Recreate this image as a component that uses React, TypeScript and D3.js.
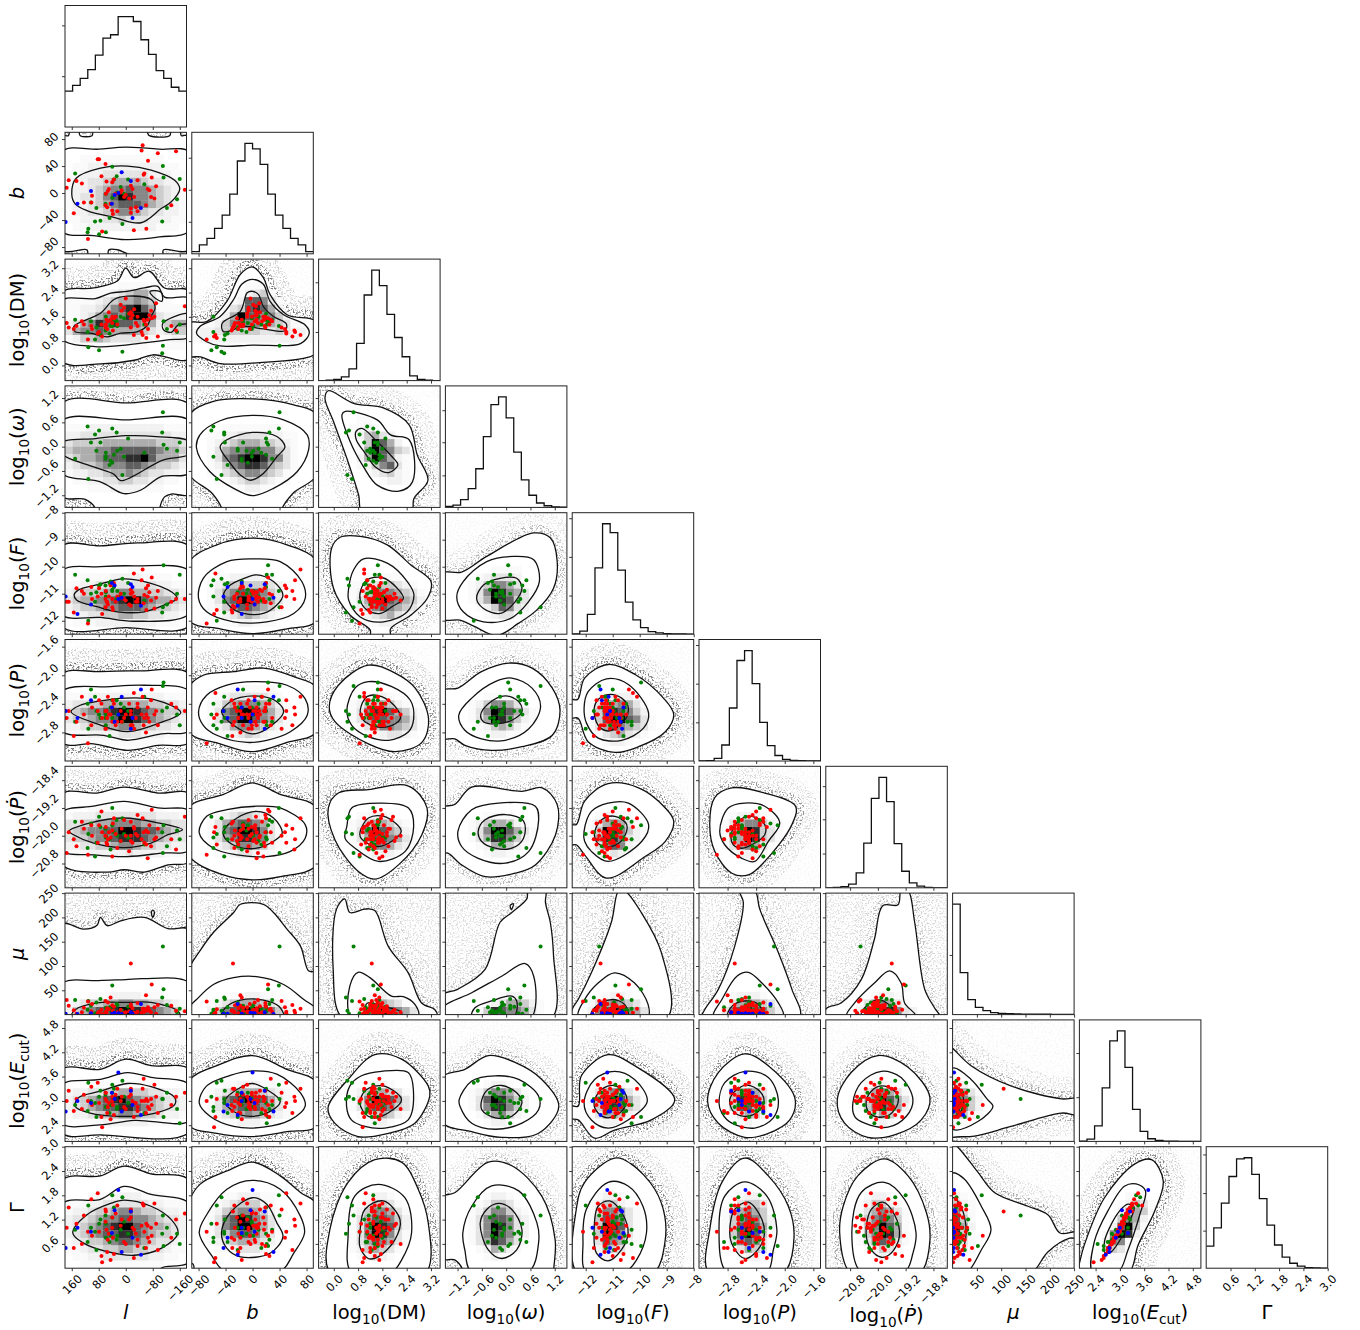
import React from "react";
import * as d3 from "d3";

const X0 = 65;
const Y0 = 5.5;
const STEP = 126.8;
const SIZE = 121.5;
const FONT = "DejaVu Sans";

// parameter order: l, b, DM, omega, F, P, Pdot, mu, Ecut, Gamma
const DOMAINS = [[180, -180], [-90, 90], [-0.5, 3.5], [-1.5, 1.5], [-12.5, -8], [-3.2, -1.5], [-21.5, -18], [0, 250], [2, 5], [0, 3]];
const TICKS = [[160, 80, 0, -80, -160], [-80, -40, 0, 40, 80], [0, 0.8, 1.6, 2.4, 3.2], [-1.2, -0.6, 0, 0.6, 1.2], [-12, -11, -10, -9, -8], [-2.8, -2.4, -2, -1.6], [-20.8, -20, -19.2, -18.4], [50, 100, 150, 200, 250], [2.4, 3, 3.6, 4.2, 4.8], [0.6, 1.2, 1.8, 2.4, 3]];
const TICK_LABELS = [
  ["160", "80", "0", "−80", "−160"], ["−80", "−40", "0", "40", "80"], ["0.0", "0.8", "1.6", "2.4", "3.2"],
  ["−1.2", "−0.6", "0.0", "0.6", "1.2"], ["−12", "−11", "−10", "−9", "−8"], ["−2.8", "−2.4", "−2.0", "−1.6"],
  ["−20.8", "−20.0", "−19.2", "−18.4"], ["50", "100", "150", "200", "250"], ["2.4", "3.0", "3.6", "4.2", "4.8"],
  ["0.6", "1.2", "1.8", "2.4", "3.0"],
];
const LABELS = [
  [["l", "i"]], [["b", "i"]], [["log"], ["10", "s"], ["(DM)"]], [["log"], ["10", "s"], ["("], ["ω", "i"], [")"]],
  [["log"], ["10", "s"], ["("], ["F", "i"], [")"]], [["log"], ["10", "s"], ["("], ["P", "i"], [")"]],
  [["log"], ["10", "s"], ["("], ["Ṗ", "i"], [")"]], [["μ", "i"]],
  [["log"], ["10", "s"], ["("], ["E", "i"], ["cut", "s"], [")"]], [["Γ"]],
];

// 16-bin marginals, peak = 100
const HISTS = [
  [32.5, 37.6, 44, 52, 65, 80.5, 83.5, 100, 100, 95.5, 79, 65.7, 51, 44, 36, 32.5],
  [2, 8, 14, 23, 35, 54, 84, 100, 95, 81, 54, 35, 23, 14, 8, 2],
  [0, 0.3, 1, 3.3, 10.6, 33.7, 77.5, 100, 86, 60, 39, 21.6, 4.3, 1.2, 0.3, 0],
  [1, 2, 7, 17, 35, 64, 93, 100, 81, 50, 25, 11, 4, 1.5, 0.5, 0.2],
  [0.3, 2.7, 18, 60, 100, 92, 58, 29, 13, 6, 2.4, 1.2, 0.6, 0.3, 0.2, 0.1],
  [0, 0.3, 2.4, 14.5, 48, 91, 100, 70, 35, 14, 5, 1.5, 0.6, 0.3, 0.1, 0],
  [0, 0.3, 1, 3.3, 13.6, 40.5, 81, 100, 78, 40, 15, 4.5, 1.5, 0.3, 0, 0],
  [100, 38, 13.6, 6.6, 3.6, 1.8, 1.2, 0.9, 0.7, 0.5, 0.4, 0.3, 0.3, 0.2, 0.2, 0.1],
  [0.3, 2, 14, 48.5, 91, 100, 67, 29, 9, 2.4, 0.9, 0.3, 0.2, 0.1, 0.1, 0],
  [20, 36.5, 59, 83, 99, 100, 85, 63, 39, 21, 10, 4.5, 1.8, 0.6, 0.3, 0.1],
];
const HIST_TICKS = [[46, 92], [29, 58, 87], [44, 89], [29, 59, 88], [35, 70, 105], [35, 70, 105], [31, 62, 92], [54], [40, 80], [34, 68, 103]];

// red population (no omega)
const RED_L = [-50, -47, -95, -149, -66, 83, 79, 60, 72, 146, 169, 130, 175, 154, 124, 100, 102, 57, 35, 40, 50, 53, 59, 60, 55, 40, 25, 38, 45, 30, 15, 5, -10, -25, -15, -35, -55, -53, -77, -90, -70, -75, -85, -60, -65, -30, -15, -15, -35, -61, -24, 112, 70, -175, -135, 12, 0, -20];
const RED_B = [71, 63, 59, 62, 48, 50, 50, 43, 25, 18, 19, 14, 8, -30, -14, -4, -14, 17, 20, 16, 6, 3, -1, -18, -21, -26, -27, -31, -16, -1, 1, -6, -8, -6, 11, 19, 29, 27, 23, 10, 4, -6, -8, -18, 6, -21, -23, -29, -27, -53, -55, -68, -57, 5, -18, 4, -3, 6];
const RED_DM = [1, 1.1, 0.95, 1.15, 1.2, 1.05, 1.1, 1.25, 1.35, 1.3, 1.25, 1.45, 1.4, 1.2, 1.35, 1.2, 1.3, 1.5, 1.55, 1.6, 1.75, 1.45, 1.35, 1.3, 1.2, 1.4, 1.35, 1.15, 1.5, 1.6, 2, 1.9, 1.7, 1.85, 1.75, 1.6, 1.45, 1.5, 1.55, 2.05, 1.65, 1.8, 1.6, 1.35, 1.5, 1.4, 1.55, 1.25, 1.3, 0.9, 1, 0.85, 0.95, 1.95, 1.3, 1.8, 2.2, 1.65];
const RED_F = [-10.1, -10.5, -10.9, -11.2, -10.7, -11.1, -10.8, -11.5, -11, -10.8, -11.3, -10.9, -11.3, -11.7, -11, -11.2, -10.75, -11.3, -10.6, -11.2, -11.1, -11.4, -10.9, -11.2, -11.3, -11.5, -11.1, -11.6, -10.7, -11.3, -11, -11.2, -11.4, -11.1, -10.85, -11.3, -11.05, -11.35, -10.4, -11.15, -10.95, -11.25, -11.55, -10.8, -11.1, -11.3, -11, -11.45, -11.2, -11.6, -10.25, -12.1, -11.75, -11.2, -11.3, -11.15, -11.25, -10.95];
const RED_P = [-2.3, -2.55, -2.7, -2.45, -2.6, -2.5, -2.35, -2.75, -2.4, -2.65, -2.5, -2.3, -2.6, -2.85, -2.55, -2.45, -2.7, -2.5, -2.4, -2.65, -2.55, -2.3, -2.75, -2.5, -2.6, -2.45, -2.65, -2.35, -2.55, -2.7, -2.5, -2.6, -2.4, -2.75, -2.55, -2.45, -2.6, -2.7, -2.2, -2.5, -2.65, -2.35, -2.55, -2.8, -2.45, -2.6, -2.5, -2.7, -2.4, -2.55, -2.25, -2.95, -2.6, -2.5, -2.4, -2.65, -2.55, -2.7];
const RED_PD = [-19.5, -20.1, -19.8, -20.4, -19.9, -20.2, -19.7, -20, -19.3, -20.3, -19.9, -19.6, -20.5, -20.1, -19.8, -20, -19.7, -20.2, -19.5, -20.6, -19.9, -20.1, -19.75, -20, -20.25, -19.85, -20.35, -19.65, -20.05, -19.95, -20.15, -19.55, -20.45, -19.8, -20, -19.4, -20.2, -19.9, -19.25, -20.05, -19.7, -20.3, -20.1, -19.85, -20.65, -19.95, -20.15, -19.6, -20, -20.25, -19.75, -20.55, -19.9, -19.45, -20.1, -19.8, -20, -20.2];
const RED_MU = [12, 4, 20, 8, 15, 3, 6, 28, 10, 2, 18, 5, 30, 9, 14, 22, 7, 4, 16, 3, 11, 25, 6, 2, 13, 19, 5, 8, 35, 1, 10, 4, 7, 3, 17, 24, 6, 12, 62, 2, 9, 5, 15, 40, 8, 3, 21, 105, 6, 11, 4, 27, 1, 7, 18, 2, 5, 13];
const RED_E = [3.3, 3, 2.7, 3.1, 2.85, 3.45, 2.95, 3.2, 2.6, 3.05, 3.25, 2.8, 3, 2.75, 3.15, 2.9, 3.35, 3, 2.65, 3.1, 2.95, 2.85, 3.2, 3.05, 2.7, 3, 3.3, 2.9, 2.55, 3.15, 3, 2.85, 3.1, 2.95, 3.25, 2.75, 3, 3.55, 2.9, 3.1, 2.8, 3.05, 3.4, 2.7, 3, 2.95, 3.15, 3.3, 2.85, 3.05, 2.6, 3, 2.35, 3.2, 2.9, 3.1, 2.8, 3];
const RED_G = [1.6, 1.05, 0.45, 1.2, 0.75, 1.85, 0.9, 1.45, 0.3, 1.1, 1.5, 0.6, 1, 0.5, 1.3, 0.8, 1.7, 0.95, 0.35, 1.25, 0.85, 0.7, 1.4, 1.15, 0.4, 1, 1.55, 0.75, 0.2, 1.35, 1.05, 0.65, 1.2, 0.95, 1.45, 0.55, 0.9, 1.55, 0.8, 1.1, 0.65, 1, 1.6, 0.5, 1.05, 0.85, 1.25, 1.4, 0.7, 1.1, 0.25, 0.9, 0.15, 1.35, 0.75, 1.2, 0.6, 1];

// green population (all ten parameters)
const GREEN_L = [40, 150, -110, -112, -160, -152, -122, -108, 10, 48, 91, 75, 111, 113, 79, 59, 103, 87, 60, 45, 59, 27, 35, 15, -7, 40, -55, 5, 25];
const GREEN_B = [39, 29, 40, 23, 21, -9, -22, -42, -46, -37, -42, -41, -53, -58, -61, -58, -14, -22, -16, -16, -1, 25, 20, 9, 20, -7, 13, -1, 1];
const GREEN_DM = [1.3, 1.5, 0.65, 1.45, 1.35, 1.1, 1.2, 0.4, 0.45, 1.05, 0.85, 1, 0.6, 1.1, 0.5, 1.6, 1.45, 1.25, 1.15, 1.3, 1.2, 1.45, 1.5, 1.6, 1.7, 1.4, 1.35, 1.55, 1.3];
const GREEN_W = [0.45, -0.3, 0.85, 0.05, 0.1, -0.1, -0.05, 0.35, -0.7, -0.45, 0.3, 0.1, -0.8, 0.5, 0.4, -0.25, 0.1, -0.1, -0.3, -0.35, -0.15, 0.35, -0.2, -0.05, 0.2, -0.4, -0.15, -0.25, -0.1];
const GREEN_F = [-10.9, -10.3, -11.5, -9.95, -10.3, -11, -11.4, -11.7, -10.45, -10.6, -11.3, -10.65, -12, -10.5, -10.7, -11.1, -11, -10.95, -10.7, -10.55, -10.95, -11.2, -10.75, -11.1, -10.6, -10.85, -11.25, -11, -10.9];
const GREEN_P = [-2.35, -2.65, -2.15, -2.1, -2.7, -2.55, -2.45, -2.5, -2.65, -2.85, -2.3, -2.6, -2.75, -2.4, -2.55, -2.7, -2.2, -2.5, -2.6, -2.45, -2.55, -2.35, -2.65, -2.4, -2.5, -2.6, -2.3, -2.45, -2.55];
const GREEN_PD = [-19.2, -19.6, -20.5, -19.7, -20.1, -19.85, -20.3, -19.9, -19.5, -20.1, -20.6, -19.75, -19.95, -20.35, -19.45, -20.05, -19.65, -20.2, -19.8, -20.4, -20, -19.55, -19.9, -20.15, -20.05, -19.7, -20.25, -19.95, -20];
const GREEN_MU = [60, 30, 140, 52, 12, 5, 20, 35, 8, 15, 3, 32, 28, 10, 2, 6, 18, 25, 4, 9, 14, 22, 7, 3, 16, 5, 11, 1, 19];
const GREEN_E = [3.4, 2.9, 3.05, 2.6, 2.45, 2.8, 3.2, 3.05, 3.5, 2.7, 2.95, 3.25, 3.45, 2.75, 3.1, 2.85, 3, 2.6, 3.15, 2.9, 3.05, 2.8, 3.3, 3, 2.95, 3.2, 2.7, 3.1, 2.85];
const GREEN_G = [1.8, 0.95, 1.3, 0.55, 0.6, 0.85, 1, 0.85, 1.75, 0.65, 0.9, 1.2, 1.55, 0.65, 1.1, 0.75, 1, 0.45, 1.3, 0.8, 1.1, 0.7, 1.5, 0.95, 0.85, 1.25, 0.5, 1.15, 0.8];

// blue population (no DM, omega or Pdot)
const BLUE_L = [178, 143, 103, 41, 33, 22, 12, -15, -45, -20];
const BLUE_B = [-43, -16, 3, -16, -3, 0, 31, 18, -22, -37];
const BLUE_F = [-11.1, -11.75, -11.4, -10.6, -10.7, -11.2, -11.15, -10.65, -11.45, -10.75];
const BLUE_P = [-2.5, -2.6, -2.35, -2.45, -2.65, -2.55, -2.3, -2.75, -2.2, -2.6];
const BLUE_MU = [2, 1, 3, 2, 4, 3, 1, 5, 22, 2];
const BLUE_E = [2.74, 3, 2.95, 3.2, 3.05, 3.7, 2.74, 3.25, 2.65, 2.9];
const BLUE_G = [0.5, 1, 0.9, 0.87, 1.43, 1.93, 0.4, 1.4, 0.33, 0.75];

const POPULATIONS = [
  { color: "green", values: [GREEN_L, GREEN_B, GREEN_DM, GREEN_W, GREEN_F, GREEN_P, GREEN_PD, GREEN_MU, GREEN_E, GREEN_G] },
  { color: "red", values: [RED_L, RED_B, RED_DM, null, RED_F, RED_P, RED_PD, RED_MU, RED_E, RED_G] },
  { color: "blue", values: [BLUE_L, BLUE_B, null, null, BLUE_F, BLUE_P, null, BLUE_MU, BLUE_E, BLUE_G] },
];

// contours per column, one entry per row below the diagonal: outer, middle, inner, then any islands (x, y, x, y ...)
const CONTOURS_L = [
  [[190, 85, 170, 85, 165, 92, 140, 92, 135, 85, 100, 85, 95, 92, -60, 92, -70, 85, -130, 85, -135, 92, -160, 92, -165, 85, -190, 85, -190, -84, -112, -84, -108, -92, -20, -92, 25, -84, 50, -84, 55, -92, 110, -92, 115, -84, 190, -84],
   [190, 61, 80, 65, 0, 68, -100, 65, -190, 60, -190, -55, -100, -65, 0, -69, 95, -63, 190, -56],
   [160, -1, 147, 22, 75, 37, -5, 40, -75, 34, -145, 19, -160, 6, -135, -13, -105, -23, -45, -44, 35, -36, 115, -26, 150, -16]],
  [[190, 2.39, 95, 2.55, 25, 2.78, 0, 3.2, -25, 2.89, -70, 3.1, -115, 2.55, -190, 2.44, -190, 0.22, -80, 0.35, -25, 0.17, 75, 0.05, 190, 0.14],
   [190, 2.13, 90, 2.2, 45, 2.38, -5, 2.44, -55, 2.55, -95, 2.6, -115, 2.25, -190, 2.2, -190, 0.95, -130, 0.85, -60, 0.75, 20, 0.65, 90, 0.62, 190, 0.88],
   [155, 1.22, 150, 1.33, 75, 1.72, 35, 2.17, -5, 2.28, -75, 2.17, -87, 1.89, -75, 1.61, -65, 1.33, -35, 1.11, 15, 1.06, 55, 0.94, 105, 1.06, 150, 1.11],
   [-72, 2.44, -105, 2.41, -107, 2.11, -80, 2.28],
   [-182, 1.7, -145, 1.61, -110, 1.39, -112, 1.17, -135, 1.09, -155, 1.33, -182, 1.39]],
  [[190, 1.06, 0, 1.08, -190, 1.03, -190, -1.17, -135, -1.17, -115, -1.24, -100, -1.55, -100, -1.8, 90, -1.8, 92, -1.5, 120, -1.3, 190, -1.22],
   [190, 0.63, 0, 0.66, -190, 0.63, -190, -0.64, -105, -0.74, -45, -1.07, 5, -1.16, 75, -0.87, 190, -0.64],
   [190, 0.1, 90, 0.2, 0, 0.27, -90, 0.25, -190, 0.12, -190, -0.18, -110, -0.33, 15, -0.84, 35, -0.68, 95, -0.5, 190, -0.17]],
  [[190, -9.25, 75, -9.23, -35, -9.12, -190, -9.27, -190, -12.17, 0, -12.26, 190, -12.2],
   [190, -10.16, 75, -10, -25, -9.97, -190, -10.18, -190, -11.73, -25, -12.02, 75, -11.88, 190, -11.77],
   [153, -11.05, 140, -10.86, 75, -10.64, 10, -10.45, -55, -10.55, -135, -10.93, -152, -11.17, -125, -11.36, -55, -11.67, 25, -11.67, 85, -11.48, 145, -11.24]],
  [[190, -1.99, 75, -1.95, -35, -1.94, -190, -1.99, -190, -2.93, -95, -2.98, -5, -3.05, 95, -2.96, 190, -2.94],
   [190, -2.23, 45, -2.16, -55, -2.14, -190, -2.23, -190, -2.77, -105, -2.82, -5, -2.91, 65, -2.84, 190, -2.78],
   [162, -2.51, 135, -2.42, 75, -2.36, 5, -2.32, -85, -2.34, -163, -2.52, -105, -2.66, -5, -2.79, 85, -2.68]],
  [[190, -18.81, 85, -18.77, 5, -18.6, -95, -18.77, -190, -18.81, -190, -20.74, -125, -20.84, -55, -21.05, 5, -20.98, 55, -21.05, 190, -20.82],
   [190, -19.34, 95, -19.15, 5, -19.01, -95, -19.2, -190, -19.3, -190, -20.4, -105, -20.5, -5, -20.6, 95, -20.55, 190, -20.42],
   [168, -19.87, 105, -19.63, 5, -19.49, -95, -19.63, -168, -19.83, -125, -19.97, -75, -20.21, 5, -20.34, 95, -20.21, 155, -19.97]],
  [[190, 186, 125, 176, 85, 184, 75, 200, 55, 183, 15, 193, -55, 200, -125, 177, -190, 174, -190, -30, 190, -30],
   [190, 63, 80, 70, 0, 72, -50, 74, -190, 64, -190, -30, 190, -30],
   [160, -5, 150, 10, 85, 24, -5, 25, -75, 25, -155, 7, -160, -5, 0, -20],
   [-80, 200, -85, 210, -80, 215, -76, 210]],
  [[190, 3.77, 75, 3.78, 0, 4.03, -75, 3.87, -190, 3.77, -190, 2.24, 75, 2.16, 190, 2.22],
   [190, 3.39, 75, 3.53, -5, 3.7, -75, 3.58, -190, 3.39, -190, 2.52, -25, 2.52, 75, 2.41, 190, 2.45],
   [150, 2.87, 140, 3.08, 75, 3.24, -5, 3.43, -75, 3.35, -145, 3.08, -145, 2.91, -65, 2.66, 25, 2.62, 105, 2.7]],
  [[190, 2.16, 75, 2.28, 5, 2.52, -75, 2.33, -190, 2.16, -190, -0.5, 190, -0.5],
   [190, 1.58, 75, 1.7, 5, 2.02, -75, 1.82, -190, 1.58, -190, 0.16, -105, 0, -100, -0.2, 190, -0.2],
   [157, 0.87, 115, 1.32, 45, 1.6, 5, 1.68, -75, 1.53, -135, 1.2, -155, 0.87, -105, 0.49, -25, 0.32, 55, 0.41, 125, 0.62]],
];
const CONTOURS_B = [
  [[-95, 1.39, -68, 1.44, -38, 2.11, -18, 3, 0, 3.24, 16, 2.89, 26, 2.33, 51, 1.67, 95, 1.44, 95, 0.42, 73, 0.22, 21, 0.11, -48, 0.06, -77, 0.28, -95, 0.33],
   [-83, 1.06, -78, 1.28, -48, 1.61, -28, 2.17, -16, 2.67, 0, 2.83, 16, 2.67, 26, 2.11, 46, 1.67, 78, 1.33, 84, 1.06, 71, 0.72, 0, 0.67, -48, 0.64, -68, 0.78],
   [-45, 1.39, -18, 1.78, -8, 2.39, 0, 2.44, 9, 2.33, 16, 1.94, 31, 1.61, 50, 1.37, 48, 1.14, 16, 1.2, -13, 1.28, -43, 1.11]],
  [[-95, 0.75, -58, 1.12, 0, 1.18, 61, 1.03, 95, 0.78, 95, -0.7, 60, -1.15, 42, -1.6, 42, -1.8, -44, -1.8, -44, -1.6, -60, -1.15, -95, -0.66],
   [-83, -0.04, -78, 0.29, -48, 0.64, 0, 0.77, 46, 0.66, 81, 0.29, 83, -0.08, 66, -0.62, 31, -1.03, 0, -1.21, -28, -1.03, -63, -0.62],
   [-48, 0, -38, 0.17, 0, 0.35, 36, 0.25, 48, 0, 36, -0.25, 16, -0.66, -3, -0.83, -18, -0.7, -33, -0.41]],
  [[-95, -9.87, -53, -9.19, 0, -8.94, 51, -9.19, 95, -9.81, 95, -12, 51, -12.3, 0, -12.48, -48, -12.3, -95, -11.98],
   [-80, -11.17, -73, -10.43, -38, -9.81, 0, -9.71, 41, -9.81, 73, -10.55, 78, -11.17, 61, -11.73, 21, -12.04, -28, -12.04, -68, -11.67],
   [-43, -11.05, -33, -10.68, -18, -10.49, 6, -10.3, 31, -10.55, 45, -11.05, 36, -11.42, 16, -11.73, -13, -11.73, -33, -11.48]],
  [[-95, -2.18, -73, -2, -28, -1.95, 16, -1.9, 61, -2.02, 95, -2.18, 95, -2.79, 51, -2.94, -1, -3.07, -48, -2.96, -95, -2.79],
   [-80, -2.51, -68, -2.28, -38, -2.14, 1, -2.09, 51, -2.14, 78, -2.33, 81, -2.56, 56, -2.79, 21, -2.91, -8, -2.94, -53, -2.84, -73, -2.7],
   [-46, -2.51, -33, -2.37, -18, -2.31, 16, -2.3, 36, -2.37, 46, -2.51, 21, -2.75, -1, -2.82, -28, -2.7]],
  [[-95, -19.2, -43, -18.81, 0, -18.48, 41, -18.81, 95, -19.2, 95, -20.84, 41, -21.18, 0, -21.27, -43, -21.13, -95, -20.55],
   [-79, -19.92, -68, -19.44, -38, -19.25, 6, -19.15, 41, -19.2, 78, -19.68, 78, -20.07, 56, -20.45, 21, -20.6, -23, -20.55, -58, -20.36],
   [-43, -19.87, -23, -19.49, 6, -19.3, 31, -19.49, 44, -19.92, 31, -20.16, 6, -20.36, -23, -20.31, -41, -20.07]],
  [[-95, 90, -78, 131, -58, 169, -28, 210, -18, 227, 16, 227, 31, 210, 51, 176, 71, 141, 83, 90, 95, 86, 95, -30, -95, -30],
   [-95, 12, -83, 31, -58, 62, -28, 76, 6, 78, 46, 62, 76, 31, 95, 10, 95, -30, -95, -30],
   [-46, -5, -38, 17, -18, 30, 16, 30, 39, 17, 46, -5, 0, -20]],
  [[-95, 3.47, -53, 3.87, 0, 4.12, 51, 3.78, 95, 3.45, 95, 2.38, 51, 2.24, 0, 2.12, -53, 2.2, -95, 2.41],
   [-79, 2.95, -68, 3.37, -33, 3.63, 0, 3.74, 36, 3.66, 71, 3.2, 78, 2.87, 56, 2.53, 16, 2.35, -28, 2.37, -63, 2.62],
   [-41, 2.99, -18, 3.33, 0, 3.43, 21, 3.28, 41, 2.99, 26, 2.74, -3, 2.62, -28, 2.74]],
  [[-95, 1.58, -78, 2.07, -38, 2.4, 0, 2.62, 41, 2.28, 71, 1.87, 95, 1.58, 95, -0.5, -95, -0.5],
   [-79, 0.87, -68, 1.32, -38, 1.95, 0, 2.17, 41, 1.95, 71, 1.28, 77, 0.87, 61, 0.37, 40, -0.1, -40, -0.1, -60, 0.3],
   [-46, 0.87, -33, 1.37, 0, 1.74, 21, 1.58, 36, 1.12, 45, 0.78, 26, 0.37, -18, 0.28, -38, 0.49],
   [-95, 0.1, -88, 0.1, -88, -0.1, -95, -0.1]],
];
const CONTOURS_DM = [
  [[-0.29, 1.2, -0.18, 1.38, 0.65, 1.07, 1.65, 0.95, 2.48, 0.54, 2.75, -0.21, 3.1, -0.83, 2.64, -1.28, 2.55, -1.6, 0.93, -1.6, 0.82, -1.2, 0.43, -0.29, -0.01, 0.62],
   [0.27, 0.79, 0.38, 0.87, 1.43, 0.66, 1.87, 0.29, 2.48, 0.17, 2.59, -0.87, 2.14, -1.1, 1.43, -0.95, 0.98, -0.5, 0.54, 0.12],
   [0.73, 0.37, 0.93, 0.45, 1.43, 0.12, 1.92, -0.25, 2.11, -0.45, 1.81, -0.64, 1.37, -0.5, 1.04, -0.17, 0.74, 0.17]],
  [[-0.07, -9.31, 0.21, -8.91, 0.87, -8.88, 1.76, -9.19, 2.53, -9.93, 3.2, -10.55, 3.08, -11.17, 2.53, -11.8, 1.87, -12.3, 1.87, -12.7, 1.2, -12.7, 1.2, -12.35, 0.54, -11.8, -0.01, -10.8],
   [0.49, -10.8, 0.65, -10.12, 0.98, -9.71, 1.76, -9.87, 2.42, -10.55, 2.64, -11.05, 2.42, -11.67, 1.64, -12.04, 0.87, -11.86, 0.49, -11.24],
   [0.89, -10.86, 1.09, -10.49, 1.59, -10.4, 2.09, -10.8, 2.29, -11.17, 1.92, -11.48, 1.54, -11.73, 1.09, -11.6, 0.87, -11.24]],
  [[-0.15, -2.44, 0.15, -2.14, 1.14, -1.86, 2.02, -1.97, 2.68, -2.18, 3.12, -2.61, 2.9, -2.94, 2.02, -3.07, 1.14, -2.96, 0.04, -2.65],
   [0.43, -2.49, 0.7, -2.18, 1.14, -2.09, 1.91, -2.16, 2.52, -2.35, 2.63, -2.61, 2.46, -2.79, 1.8, -2.91, 1.14, -2.86, 0.59, -2.7],
   [0.87, -2.49, 1.09, -2.3, 1.58, -2.3, 2.08, -2.47, 2.19, -2.61, 1.8, -2.72, 1.25, -2.7, 0.92, -2.6]],
  [[-0.18, -19.2, 0.15, -18.77, 1.14, -18.67, 2.46, -18.57, 3.07, -19.2, 2.9, -19.97, 2.13, -20.84, 1.36, -21.25, 0.81, -21.03, 0.04, -20.12],
   [0.43, -19.73, 0.59, -19.2, 1.58, -19.06, 2.46, -19.2, 2.63, -19.73, 2.35, -20.45, 1.47, -20.74, 0.7, -20.36, 0.37, -20.07],
   [0.87, -19.87, 1.14, -19.49, 1.64, -19.44, 2.02, -19.63, 2.22, -19.87, 1.91, -20.16, 1.47, -20.31, 1.09, -20.21, 0.87, -20.03]],
  [[0.25, -5, -0.02, 93, 0.09, 217, 0.36, 238, 0.53, 210, 1.02, 217, 1.35, 214, 1.79, 141, 2.45, 86, 2.89, 24, 3.33, 10, 3.4, -5, 1.6, -30],
   [0.56, -5, 0.53, 59, 0.8, 87, 1.19, 76, 1.9, 38, 2.29, 37, 2.67, 21, 2.78, -5, 1.6, -30],
   [1.02, -5, 1.11, 24, 1.6, 17, 2.2, 6, 2.23, -5, 1.6, -20]],
  [[-0.19, 2.83, 0.47, 3.53, 1.35, 4.14, 2.23, 4.03, 3.11, 3.37, 3.16, 3.12, 2.67, 2.45, 1.79, 2.2, 0.8, 2.12, 0.03, 2.45],
   [0.42, 2.87, 0.53, 3.37, 0.91, 3.62, 1.57, 3.73, 2.45, 3.7, 2.62, 3.28, 2.45, 2.53, 1.68, 2.33, 1.02, 2.37, 0.58, 2.53],
   [0.86, 2.95, 1.08, 3.28, 1.63, 3.37, 2.23, 3.03, 1.57, 2.62, 1.13, 2.62]],
  [[-0.13, -0.1, -0.13, 0.95, 0.47, 2.12, 1.35, 2.68, 2.23, 2.62, 2.78, 1.95, 3.11, 1.12, 3.05, -0.1, 1.5, -0.5],
   [0.47, 0.78, 0.69, 1.78, 1.46, 2.07, 2.34, 1.74, 2.56, 0.87, 2.23, 0.2, 1.9, -0.1, 0.58, -0.1],
   [0.86, 0.87, 1.02, 1.45, 1.63, 1.66, 2.18, 1.2, 2.01, 0.7, 1.46, 0.28, 1.13, 0.24, 0.86, 0.53]],
];
const CONTOURS_W = [
  [[-1.6, -10.25, -1.1, -10.2, -0.48, -9.62, 0.68, -8.75, 1.09, -8.93, 1.26, -9.8, 1.17, -10.8, 0.76, -11.6, 0.3, -12.1, -0.23, -12.55, -0.8, -12.2, -1.14, -11.98, -1.6, -11.92],
   [-1.22, -11.11, -1.06, -10.55, -0.48, -9.81, 0.18, -9.62, 0.68, -9.74, 0.82, -10.55, 0.55, -11.3, 0.1, -11.92, -0.56, -12.04, -1.06, -11.67],
   [-0.73, -11.17, -0.56, -10.68, -0.15, -10.43, 0.26, -10.43, 0.39, -10.8, 0.22, -11.3, -0.15, -11.73, -0.56, -11.55]],
  [[-1.6, -2.22, -1.19, -2.18, -0.61, -1.95, 0.06, -1.83, 0.64, -1.9, 1.14, -2.18, 1.33, -2.49, 1.14, -2.84, 0.39, -3, -0.36, -3.05, -1.02, -2.98, -1.27, -2.89, -1.6, -2.88],
   [-1.17, -2.56, -0.85, -2.32, -0.27, -2.09, 0.14, -2.04, 0.64, -2.18, 0.85, -2.44, 0.56, -2.75, -0.02, -2.91, -0.61, -2.89, -1.02, -2.77],
   [-0.63, -2.56, -0.44, -2.4, -0.02, -2.29, 0.31, -2.37, 0.39, -2.51, 0.14, -2.63, -0.27, -2.68, -0.56, -2.65]],
  [[-1.6, -19.2, -1.27, -19.1, -0.85, -18.6, 0.39, -18.72, 0.89, -18.62, 1.26, -19.1, 1.22, -19.97, 0.72, -20.84, 0.22, -21.08, -0.52, -21.18, -1.1, -20.84, -1.44, -20.5, -1.6, -20.5],
   [-1.19, -19.87, -0.85, -19.25, -0.19, -19.06, 0.72, -19.15, 0.8, -19.58, 0.56, -20.45, -0.02, -20.79, -0.69, -20.65, -1.1, -20.31],
   [-0.69, -19.87, -0.52, -19.54, -0.02, -19.39, 0.43, -19.58, 0.43, -20.07, 0.14, -20.36, -0.27, -20.36, -0.61, -20.16]],
  [[-1.6, 39, -1.2, 52, -0.52, 93, -0.15, 190, 0.14, 210, 0.51, 238, 0.55, 255, 0.97, 255, 0.97, 231, 1.09, 190, 1.17, 121, 1.15, -5, 0, -30, -1.6, -30],
   [-1.6, 12, -0.85, 45, -0.11, 79, 0.47, 105, 0.68, 79, 0.64, -5, 0, -30, -1.6, -30],
   [-0.85, -5, -0.77, 14, -0.36, 28, 0.14, 38, 0.26, 28, 0.2, -5, -0.3, -20],
   [0.1, 225, 0.18, 228, 0.13, 216]],
  [[-1.6, 3.58, -1.02, 3.78, -0.44, 4.12, 0.22, 3.95, 0.88, 3.53, 1.3, 2.87, 0.8, 2.2, -0.11, 2.1, -0.85, 2.24, -1.6, 2.49],
   [-1.16, 3.03, -0.85, 3.49, -0.27, 3.62, 0.31, 3.53, 0.8, 3.12, 0.8, 2.78, 0.39, 2.45, -0.27, 2.3, -0.85, 2.45, -1.14, 2.87],
   [-0.6, 3.03, -0.45, 3.28, -0.11, 3.38, 0.26, 3.2, 0.39, 2.95, 0.14, 2.62, -0.27, 2.58, -0.6, 2.78]],
  [[-1.6, 1.74, -1.26, 1.87, -0.44, 2.62, 0.14, 2.53, 0.88, 1.78, 1.21, 0.7, 1.17, -0.1, 1.17, -0.5, -1.05, -0.5, -1.05, -0.1, -1.26, 0.2, -1.6, 0.24],
   [-1.07, 0.87, -0.85, 1.53, -0.36, 2.03, 0.31, 1.91, 0.76, 1.12, 0.8, 0.62, 0.55, -0.1, -0.85, -0.1, -1.02, 0.45],
   [-0.64, 1.12, -0.48, 1.45, -0.19, 1.6, 0.14, 1.45, 0.39, 0.95, 0.26, 0.45, -0.11, 0.24, -0.44, 0.45]],
];
const CONTOURS_F = [
  [[-12.6, -2.34, -12.3, -2.34, -12.04, -2.04, -11.17, -1.85, -10.17, -1.99, -9.12, -2.32, -8.74, -2.55, -9.05, -2.79, -10.04, -3, -10.92, -3.08, -11.91, -2.93, -12.29, -2.6, -12.6, -2.6],
   [-12.06, -2.46, -11.91, -2.23, -11.23, -2.05, -10.42, -2.13, -9.67, -2.53, -9.86, -2.74, -10.67, -2.91, -11.54, -2.88, -11.97, -2.67],
   [-11.69, -2.48, -11.54, -2.34, -11.17, -2.27, -10.67, -2.32, -10.42, -2.46, -10.6, -2.65, -11.17, -2.78, -11.54, -2.7]],
  [[-12.6, -19.68, -12.35, -19.68, -12.04, -19, -11.17, -18.5, -10.04, -18.62, -9.05, -19.2, -8.74, -19.58, -9.05, -20.16, -9.8, -20.6, -11.23, -21.22, -12.04, -20.55, -12.35, -20.26, -12.6, -20.26],
   [-12.06, -19.87, -11.79, -19.3, -11.17, -19.06, -10.42, -19.06, -9.67, -19.68, -9.92, -20.16, -11.17, -20.74, -11.79, -20.45, -12.04, -20.16],
   [-11.66, -19.87, -11.41, -19.54, -10.92, -19.44, -10.48, -19.68, -10.6, -20.07, -11.04, -20.31, -11.48, -20.26, -11.66, -20.07]],
  [[-12.51, 10, -12.28, 31, -11.79, 86, -11.05, 190, -10.78, 255, -10.56, 255, -9.94, 210, -9.2, 128, -8.95, -5, -11, -30, -12.6, -30],
   [-12.28, -5, -12.04, 31, -11.54, 65, -10.93, 86, -10.19, 65, -9.69, 21, -9.69, -5, -11, -30],
   [-11.79, -5, -11.67, 14, -11.05, 31, -10.56, 21, -10.43, -5, -11, -20]],
  [[-12.6, 2.87, -12.28, 2.87, -12.16, 3.62, -11.17, 4.14, -10.19, 3.87, -8.7, 3.03, -9.57, 2.53, -10.93, 2.28, -11.67, 2.08, -12.28, 2.53, -12.6, 2.57],
   [-12.06, 2.95, -11.67, 3.53, -10.93, 3.73, -10.19, 3.53, -9.72, 2.99, -10.43, 2.53, -11.17, 2.33, -11.79, 2.53],
   [-11.69, 2.95, -11.42, 3.28, -10.93, 3.38, -10.49, 3.12, -10.62, 2.78, -11.17, 2.58, -11.54, 2.7]],
  [[-12.35, -0.1, -12.35, 1.45, -12.04, 2.12, -10.93, 2.72, -10.31, 2.57, -9.44, 1.95, -9.07, 1.28, -9.07, 0.62, -9.44, -0.1, -10.9, -0.5],
   [-12.1, 0.62, -11.98, 1.45, -11.17, 2.12, -10.43, 2.03, -9.88, 1.53, -9.75, 0.87, -10.12, 0.2, -10.55, -0.1, -11.98, -0.1],
   [-11.69, 0.87, -11.54, 1.53, -11.11, 1.66, -10.62, 1.32, -10.43, 0.87, -10.68, 0.45, -11.17, 0.18, -11.6, 0.37]],
];
const CONTOURS_P = [
  [[-3.05, -19.68, -2.98, -18.9, -2.74, -18.62, -2.28, -18.77, -1.85, -19.15, -1.9, -19.68, -2.28, -20.74, -2.51, -21.13, -2.74, -21.08, -2.98, -20.45],
   [-2.91, -19.87, -2.79, -19.2, -2.56, -19.06, -2.28, -19.15, -2.07, -19.63, -2.23, -20.16, -2.42, -20.74, -2.6, -20.65, -2.84, -20.26],
   [-2.75, -19.97, -2.65, -19.58, -2.46, -19.44, -2.28, -19.68, -2.28, -19.97, -2.42, -20.21, -2.6, -20.36, -2.72, -20.26]],
  [[-3.16, -5, -3.12, 10, -2.93, 52, -2.7, 141, -2.58, 231, -2.63, 255, -2.42, 255, -2.35, 217, -2.09, 128, -1.9, 52, -1.79, -5, -2.5, -30],
   [-3, -5, -2.88, 31, -2.67, 79, -2.51, 87, -2.32, 65, -2.09, 24, -2.02, -5, -2.55, -30],
   [-2.8, -5, -2.74, 17, -2.56, 28, -2.37, 21, -2.3, -5, -2.55, -20]],
  [[-3.08, 2.99, -2.93, 3.7, -2.56, 4.16, -2.23, 3.87, -1.86, 3.08, -1.93, 2.53, -2.23, 2.2, -2.56, 2.1, -2.93, 2.45],
   [-2.92, 2.95, -2.84, 3.45, -2.56, 3.73, -2.23, 3.58, -2.09, 3.03, -2.16, 2.58, -2.42, 2.33, -2.74, 2.45, -2.88, 2.7],
   [-2.77, 3.03, -2.67, 3.28, -2.53, 3.39, -2.35, 3.24, -2.29, 2.99, -2.37, 2.74, -2.56, 2.62, -2.72, 2.74]],
  [[-3.07, -0.1, -3.05, 0.95, -2.88, 2.12, -2.56, 2.72, -2.23, 2.28, -1.95, 1.53, -1.87, 0.78, -2, -0.1, -2.5, -0.5],
   [-2.92, 0.95, -2.84, 1.78, -2.56, 2.13, -2.25, 1.78, -2.11, 0.95, -2.16, 0.45, -2.25, -0.1, -2.81, -0.1],
   [-2.77, 0.87, -2.7, 1.45, -2.51, 1.63, -2.32, 1.2, -2.29, 0.78, -2.42, 0.37, -2.56, 0.24, -2.72, 0.53]],
];
const CONTOURS_PD = [
  [[-21.49, 12, -21.06, 24, -20.48, 72, -20.1, 155, -19.86, 224, -19.42, 226, -19.33, 255, -19.13, 255, -18.94, 190, -18.65, 52, -18.37, 14, -18.22, -5, -20, -30, -21.6, -30],
   [-20.91, -5, -20.67, 24, -20.1, 65, -19.66, 90, -19.33, 65, -19.23, 24, -18.9, -5, -20, -30],
   [-20.48, -5, -20.38, 14, -20, 31, -19.62, 17, -19.42, -5, -20, -20]],
  [[-21.17, 3.03, -20.77, 3.7, -20, 4.12, -19.13, 3.83, -18.5, 3.08, -18.75, 2.53, -19.52, 2.16, -20.29, 2.1, -20.96, 2.45],
   [-20.72, 2.95, -20.48, 3.45, -19.9, 3.73, -19.33, 3.58, -18.99, 3.03, -19.18, 2.62, -19.71, 2.35, -20.38, 2.45, -20.67, 2.62],
   [-20.34, 2.95, -20.19, 3.24, -19.86, 3.37, -19.47, 3.2, -19.42, 2.95, -19.66, 2.66, -20, 2.6, -20.24, 2.7]],
  [[-21.1, 0.87, -21, 1.53, -20.58, 2.28, -19.81, 2.7, -19.13, 2.28, -18.6, 1.37, -18.5, 0.7, -18.75, -0.1, -19.8, -0.5, -20.82, -0.1],
   [-20.75, 0.87, -20.48, 1.87, -19.81, 2.12, -19.23, 1.7, -18.9, 0.87, -18.99, 0.37, -19.23, -0.1, -20.48, -0.1],
   [-20.34, 0.87, -20.19, 1.45, -19.86, 1.63, -19.52, 1.32, -19.38, 0.78, -19.62, 0.37, -19.9, 0.27, -20.19, 0.45]],
];
const CONTOURS_MU = [
  [[-20, 4.5, 0, 4.3, 38, 3.87, 120, 3.37, 224, 3.05, 260, 3.05, 260, 2.66, 224, 2.7, 120, 2.37, 45, 2.13, 0, 2.1, -20, 2],
   [0, 3.81, 38, 3.53, 72, 3.03, 83, 2.87, 52, 2.49, 0, 2.3, -20, 3],
   [0, 3.41, 14, 3.28, 23, 3.03, 17, 2.74, 0, 2.62, -20, 3]],
  [[10, 3, 52, 2.37, 86, 1.87, 155, 1.53, 196, 1.32, 221, 0.87, 250, 0.9, 260, 0.9, 260, 0.74, 241, 0.74, 196, 0.4, 165, -0.1, 100, -0.5, -20, -0.5, -20, 3.3],
   [0, 2.35, 24, 2.2, 59, 1.53, 79, 0.95, 59, 0.45, 31, -0.1, 0, -0.3, -20, 1],
   [0, 1.74, 17, 1.53, 28, 0.87, 17, 0.41, 0, 0.28, -20, 1]],
];
const CONTOURS_E = [
  [[2, 0.12, 2.12, 0.57, 2.62, 1.74, 3.36, 2.57, 3.78, 2.68, 4.07, 2.16, 3.86, 1.41, 3.45, 0.57, 3.24, -0.1, 2.5, -0.5, 1.9, -0.3],
   [2.33, -0.1, 2.37, 0.66, 2.7, 1.41, 3.12, 2.03, 3.4, 2.08, 3.63, 1.91, 3.49, 1.32, 3.2, 0.45, 2.95, -0.1],
   [2.62, 0.66, 2.74, 0.99, 2.99, 1.41, 3.2, 1.58, 3.35, 1.51, 3.24, 1.16, 3.03, 0.74, 2.79, 0.41, 2.64, 0.37]],
];
const CONTOURS = [CONTOURS_L, CONTOURS_B, CONTOURS_DM, CONTOURS_W, CONTOURS_F, CONTOURS_P, CONTOURS_PD, CONTOURS_MU, CONTOURS_E];

// 2D histogram shade (0-9) on the 16x16 grid: first row from the top, then the rows
const DENSITY_L = [
  [3, "0011111111111000", "0112222222222110", "1122233333322211", "1223345555433221", "1223456676654321", "1233467986654321", "1223456777654321", "1223345665433221", "1122233433322211", "0112222222221110"],
  [3, "0000000111111000", "0111112345531000", "1111234556541100", "1122346789751111", "1123567689963222", "2356878776552455", "3566765555432344", "1244543333211122", "0111111111100111"],
  [5, "1112222222222111", "2233333333333322", "3444455555554443", "4555667777776554", "3455677788975553", "2344566677654432", "1223345565433221", "0112233443322110", "0001112222111000"],
  [8, "0011112222111100", "1122333333332211", "2344455665544332", "3455667899765543", "2344566777654432", "1223344554433221", "0111222222221110"],
  [7, "1112222222222111", "2334455555544332", "3456678998765443", "3445667998765432", "2234455665443322", "1112222333222111", "0011111111111000"],
  [5, "0001111111111000", "1222333333332221", "3344556666554433", "3456677998776543", "3445667888765433", "2233445665443322", "1112222232222111"],
  [13, "0001112222111000", "1234455665544321", "2456778998776542"],
  [8, "0000111111110000", "1223344554433221", "2345678976554332", "2345677887654332", "1223445665443221", "0011122222211100"],
  [6, "0001112222111000", "1112233333322111", "1223445665443221", "2334566776654332", "2345678997655432", "2345677887654432", "1234456776543321", "1123344554433211", "0112233333322110", "0011111111111000"],
];
const DENSITY_B = [
  [3, "0000000111000000", "0000001234100000", "0000012776310000", "0000134787520000", "0001259776642000", "0112467665543110", "1223444443343221", "1222222222222211", "0011111111111100"],
  [5, "0000111111110000", "0011223333221100", "0012345554432100", "0013566776643100", "0013678998663100", "0012467887543100", "0011345665431100", "0001123443211000", "0000011221100000"],
  [8, "0001122221100000", "0012344444321000", "0013567776431000", "0013679976531000", "0012457765421000", "0001234543210000", "0000112211100000"],
  [6, "0000011111100000", "0001233333210000", "0012456665421000", "0013679986531000", "0013679976531000", "0012356654321000", "0001123432110000", "0000011110000000"],
  [5, "0000011111000000", "0001234432100000", "0013567765310000", "0013679986310000", "0013568876310000", "0012346654210000", "0001123321100000"],
  [13, "0000011221100000", "0012345554321000", "0024678997642000"],
  [8, "0000112221100000", "0012345554321000", "0013678977531000", "0013567776531000", "0012345654321000", "0000112221100000"],
  [6, "0000112221100000", "0001234442100000", "0012456654210000", "0013679865310000", "0013679975310000", "0013467764310000", "0012345543210000", "0001123332100000", "0000011110000000"],
];
const DENSITY_DM = [
  [4, "0000011000000000", "0000112100000000", "0000124532000000", "0000014975200000", "0000015976431000", "0000025975210000", "0000012467310000", "0000001234210000", "0000000012211000"],
  [8, "0000001111100000", "0000112344321000", "0000124566543100", "0000135797654210", "0000124676543100", "0000012345321000", "0000001122100000"],
  [7, "0000011221000000", "0000124454210000", "0000136897542100", "0000135776653100", "0000013466543100", "0000001123321000"],
  [6, "0000011221000000", "0000124554210000", "0000136975421000", "0000135776531000", "0000013665321000", "0000001222100000"],
  [13, "0000001221000000", "0000012454310000", "0000025797653100"],
  [8, "0000001221000000", "0000124554310000", "0000136987531000", "0000135776431000", "0000012454210000", "0000001221000000"],
  [6, "0000001221000000", "0000012443100000", "0000124665310000", "0000135776420000", "0000136987420000", "0000136986310000", "0000135765310000", "0000124543100000", "0000012321000000"],
];
const DENSITY_W = [
  [7, "0000001111000000", "0000123332000000", "0001246653100000", "0001369865310000", "0001359874310000", "0000124763210000", "0000012331100000"],
  [7, "0000011111000000", "0001246653100000", "0001369875310000", "0001359864210000", "0000124542100000", "0000012211000000"],
  [6, "0000011110000000", "0001245542100000", "0001369975310000", "0001358864210000", "0000125542100000", "0000012210000000"],
  [13, "0000000122100000", "0000012355421000", "0000148766531000"],
  [8, "0000012210000000", "0001246653100000", "0001379864200000", "0001368864200000", "0000135642100000", "0000012210000000"],
  [6, "0000012210000000", "0000124431000000", "0001246642100000", "0001367763200000", "0001369863200000", "0001369763200000", "0001358753100000", "0000125421000000", "0000012100000000"],
];
const DENSITY_F = [
  [7, "0001122210000000", "0013456531000000", "0014787642000000", "0014799763100000", "0013576543100000", "0001345321000000", "0000122100000000"],
  [6, "0001221100000000", "0013565310000000", "0014986421000000", "0015886321000000", "0013676210000000", "0001232100000000"],
  [13, "0000122100000000", "0013565431000000", "0026798653100000"],
  [8, "0001221000000000", "0013565310000000", "0015897531000000", "0014787431000000", "0013554210000000", "0001221000000000"],
  [6, "0001221000000000", "0012442100000000", "0013665310000000", "0014776310000000", "0014987310000000", "0014976310000000", "0013765210000000", "0012543100000000", "0001210000000000"],
];
const DENSITY_P = [
  [6, "0000122210000000", "0001356642100000", "0001469843100000", "0001459843100000", "0001356531000000", "0000122210000000"],
  [13, "0000122210000000", "0001356543100000", "0003678764200000"],
  [8, "0000122210000000", "0001456531000000", "0001488641000000", "0001477531000000", "0000135421000000", "0000012100000000"],
  [6, "0000012210000000", "0000134431000000", "0001356541000000", "0001467642000000", "0001478752000000", "0001479741000000", "0001367631000000", "0000135431000000", "0000012210000000"],
];
const DENSITY_PD = [
  [13, "0000001221000000", "0000135653100000", "0000267986320000"],
  [8, "0000012210000000", "0000135653100000", "0000146975310000", "0000146865210000", "0000013542100000", "0000001210000000"],
  [6, "0000012210000000", "0000124421000000", "0000135653100000", "0000146764100000", "0000146975100000", "0000146985100000", "0000135763100000", "0000012431000000", "0000001210000000"],
];
const DENSITY_MU = [
  [8, "3200000000000000", "6531000000000000", "8642000000000000", "8642000000000000", "6421000000000000", "2100000000000000"],
  [6, "2100000000000000", "4210000000000000", "6310000000000000", "7410000000000000", "9520000000000000", "8410000000000000", "6310000000000000", "4210000000000000", "2100000000000000"],
];
const DENSITY_E = [
  [6, "0000001110000000", "0000012431000000", "0000024541000000", "0000146520000000", "0000279410000000", "0001698200000000", "0002661000000000", "0001431000000000", "0000110000000000"],
];
const DENSITY = [DENSITY_L, DENSITY_B, DENSITY_DM, DENSITY_W, DENSITY_F, DENSITY_P, DENSITY_PD, DENSITY_MU, DENSITY_E];

const SHADES = ["#ffffff", "#fafafa", "#f2f2f2", "#e4e4e4", "#cdcdcd", "#adadad", "#888888", "#606060", "#2e2e2e", "#000000"];

// how strong the cloud of fine samples looks around the outer contour
const ROW_HAZE = [0, 0.5, 1, 0.8, 1, 1, 0.9, 0.45, 1, 1];
const COL_HAZE = [1, 1, 0.85, 0.5, 0.9, 0.8, 0.6, 0.6, 0.9];
const FAR_HAZE = [0, 0.04, 0.06, 0.06, 0.08, 0.08, 0.08, 0.3, 0.08, 0.08];

const chunk = (flat: number[]) => d3.range(0, flat.length, 2).map((i) => [flat[i], flat[i + 1]]);

const addLabel = (text: any, parts: string[][]) => {
  parts.forEach((part, i) => {
    const prevSub = i > 0 && parts[i - 1][1] === "s";
    const isSub = part[1] === "s";
    text
      .append("tspan")
      .attr("dy", isSub ? 4.5 : prevSub ? -4.5 : 0)
      .attr("font-size", isSub ? "70%" : null)
      .attr("font-style", part[1] === "i" ? "italic" : null)
      .text(part[0]);
  });
};

const CornerPlot = () => {
  const containerRef = React.useRef<SVGSVGElement>(null);

  React.useEffect(() => {
    const root = d3.select(containerRef.current!);
    root.selectAll("*").remove();
    const defs = root.append("defs");
    const n = DOMAINS.length;

    const xOf = (c: number) =>
      d3.scaleLinear().domain(DOMAINS[c]).range([X0 + c * STEP, X0 + c * STEP + SIZE]);
    const yOf = (r: number) =>
      d3.scaleLinear().domain(DOMAINS[r]).range([Y0 + r * STEP + SIZE, Y0 + r * STEP]);

    const styleTicks = (axis: any, horizontal: boolean) => {
      axis.attr("font-family", FONT).attr("font-size", 11.5);
      axis.select(".domain").remove();
      axis.selectAll(".tick line").attr("stroke", "#222").attr("stroke-width", 0.9);
      axis.selectAll(".tick text").each(function (this: any) {
        const t = d3.select(this);
        const w = this.getComputedTextLength();
        const off = 0.354 * w + 8.5;
        t.attr("x", null)
          .attr("y", null)
          .attr("dy", null)
          .attr("text-anchor", "middle")
          .attr("dominant-baseline", "central")
          .attr("transform", `translate(${horizontal ? 0 : -off},${horizontal ? off : 0}) rotate(-45)`);
      });
    };

    for (let r = 0; r < n; r++) {
      for (let c = 0; c <= r; c++) {
        const x = xOf(c);
        const left = x.range()[0];
        const top = Y0 + r * STEP;
        const panel = root.append("g").attr("class", `panel-${c}-${r}`);
        const clipId = `clip-${c}-${r}`;
        defs.append("clipPath").attr("id", clipId).append("rect").attr("x", left).attr("y", top).attr("width", SIZE).attr("height", SIZE);
        const inner = panel.append("g").attr("clip-path", `url(#${clipId})`);

        const y = c === r
          ? d3.scaleLinear().domain([0, 110]).range([top + SIZE, top])
          : yOf(r);

        if (c === r) {
          const edges = d3.range(17).map((k) => DOMAINS[c][0] + (k * (DOMAINS[c][1] - DOMAINS[c][0])) / 16);
          const steps = HISTS[c].map((v, k) => [edges[k], v]);
          steps.push([edges[16], HISTS[c][15]]);
          const line = d3.line().x((d) => x(d[0])).y((d) => y(d[1])).curve(d3.curveStepAfter);
          inner.append("path").attr("d", line(steps)).attr("fill", "none").attr("stroke", "#111").attr("stroke-width", 1.3);
        } else {
          const pieces = CONTOURS[c][r - c - 1].map(chunk);
          const outline = d3.line().x((d) => x(d[0])).y((d) => y(d[1])).curve(d3.curveCatmullRomClosed.alpha(0.5));

          // sample cloud, as a speckle texture around the outer contour
          const speckId = `speck-${c}-${r}`;
          const speck = defs.append("filter").attr("id", speckId).attr("filterUnits", "userSpaceOnUse")
            .attr("x", left).attr("y", top).attr("width", SIZE).attr("height", SIZE)
            .attr("color-interpolation-filters", "sRGB");
          speck.append("feTurbulence").attr("type", "fractalNoise").attr("baseFrequency", 0.6).attr("numOctaves", 3).attr("seed", 3 + c + r * 10).attr("result", "noise");
          speck.append("feColorMatrix").attr("in", "noise").attr("type", "matrix")
            .attr("values", "0 0 0 0 0 0 0 0 0 0 0 0 0 0 0 6 0 0 0 -3").attr("result", "mask");
          speck.append("feComposite").attr("in", "SourceGraphic").attr("in2", "mask").attr("operator", "in").attr("result", "dots");
          speck.append("feGaussianBlur").attr("in", "dots").attr("stdDeviation", 0.35);

          const near = ROW_HAZE[r] * COL_HAZE[c];
          const haze = inner.append("g").attr("filter", `url(#${speckId})`);
          haze.append("rect").attr("x", left).attr("y", top).attr("width", SIZE).attr("height", SIZE).attr("fill", "#999").attr("opacity", FAR_HAZE[r]);
          haze.append("path").attr("d", outline(pieces[0])).attr("fill", "none").attr("stroke", "#888").attr("stroke-width", 44).attr("opacity", 0.35 * near);
          haze.append("path").attr("d", outline(pieces[0])).attr("fill", "none").attr("stroke", "#555").attr("stroke-width", 16).attr("opacity", 0.7 * near);
          inner.append("path").attr("d", outline(pieces[0])).attr("fill", "#fff");

          // 2D histogram
          const [first, ...rows] = DENSITY[c][r - c - 1] as [number, ...string[]];
          const cell = SIZE / 16;
          rows.forEach((row, k) => {
            row.split("").forEach((ch, j) => {
              if (ch === "0") return;
              inner.append("rect")
                .attr("x", left + j * cell)
                .attr("y", top + (first + k) * cell)
                .attr("width", cell + 0.2)
                .attr("height", cell + 0.2)
                .attr("fill", SHADES[+ch]);
            });
          });

          inner.selectAll("path.contour").data(pieces).enter().append("path")
            .attr("class", "contour")
            .attr("d", (d: any) => outline(d))
            .attr("fill", "none")
            .attr("stroke", "#111")
            .attr("stroke-width", 1.3);

          POPULATIONS.forEach(({ color, values }) => {
            const xs = values[c];
            const ys = values[r];
            if (!xs || !ys) return;
            inner.selectAll(`circle.${color}`).data(xs).enter().append("circle")
              .attr("class", color)
              .attr("cx", (d: number) => x(d))
              .attr("cy", (_: number, i: number) => y(ys[i]))
              .attr("r", 2)
              .attr("fill", color);
          });
        }

        panel.append("rect").attr("x", left).attr("y", top).attr("width", SIZE).attr("height", SIZE)
          .attr("fill", "none").attr("stroke", "#222").attr("stroke-width", 1);

        const xAxis = d3.axisBottom(x).tickValues(TICKS[c]).tickSize(3).tickPadding(3)
          .tickFormat((_, i) => (r === n - 1 ? TICK_LABELS[c][i] : ""));
        styleTicks(panel.append("g").attr("transform", `translate(0,${top + SIZE})`).call(xAxis), true);

        const yAxis = d3.axisLeft(y).tickValues(c === r ? HIST_TICKS[c] : TICKS[r]).tickSize(3).tickPadding(3)
          .tickFormat((_, i) => (c === 0 && r > 0 ? TICK_LABELS[r][i] : ""));
        styleTicks(panel.append("g").attr("transform", `translate(${left},0)`).call(yAxis), false);
      }
    }

    LABELS.forEach((parts, i) => {
      const xLabel = root.append("text")
        .attr("x", X0 + i * STEP + SIZE / 2)
        .attr("y", i === 6 ? 1322 : 1319)
        .attr("text-anchor", "middle")
        .attr("font-family", FONT)
        .attr("font-size", 19.5);
      addLabel(xLabel, parts);
      if (i === 0) return;
      const yLabel = root.append("text")
        .attr("transform", `translate(24,${Y0 + i * STEP + SIZE / 2}) rotate(-90)`)
        .attr("text-anchor", "middle")
        .attr("font-family", FONT)
        .attr("font-size", 19.5);
      addLabel(yLabel, parts);
    });
  }, []);

  return (
    <svg
      ref={containerRef}
      width={1360}
      height={1330}
      style={{ position: "absolute", left: 0, top: 0, background: "#fff" }}
    />
  );
};

export default function App() {
  return <CornerPlot />;
}
